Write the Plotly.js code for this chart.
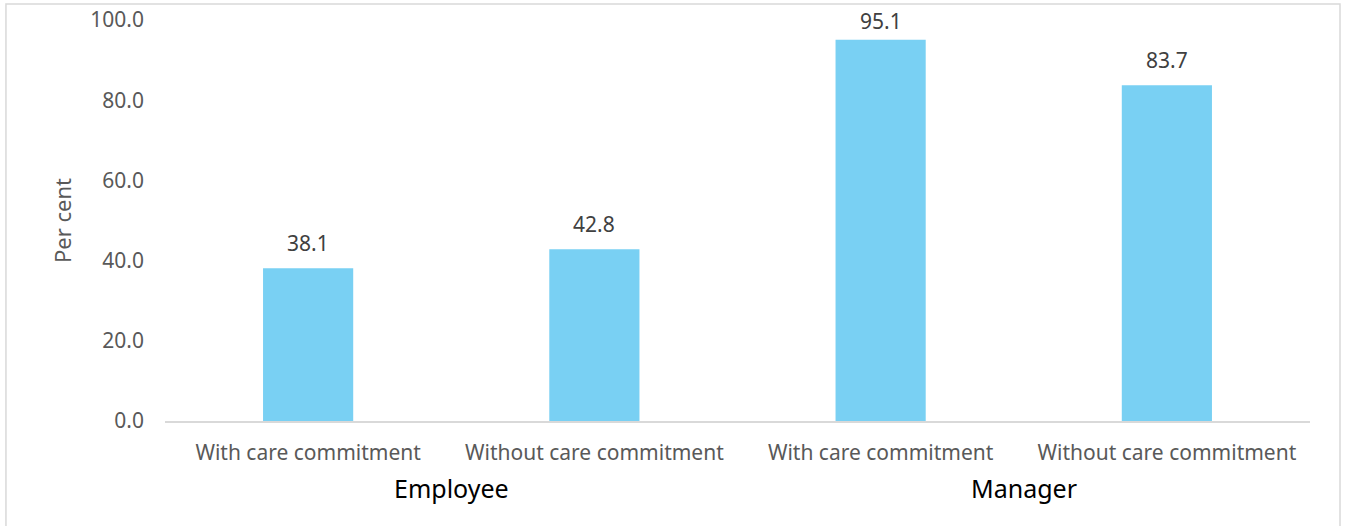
<!DOCTYPE html>
<html>
<head>
<meta charset="utf-8">
<script src="https://cdn.plot.ly/plotly-3.0.1.min.js"></script>
<style>
html,body{margin:0;padding:0;background:#fff;}
#chart{width:1346px;height:526px;}
</style>
</head>
<body>
<div id="chart"></div>
<script>
const groups = ["Employee", "Employee", "Manager", "Manager"];
const subcategories = ["With care commitment", "Without care commitment", "With care commitment", "Without care commitment"];
const values = [38.1, 42.8, 95.1, 83.7];
const groupNames = ["Employee", "Manager"];
const yTicks = [0, 20, 40, 60, 80, 100];

const xIdx = subcategories.map((_, i) => i);
const font = "'Noto Sans', 'Open Sans', sans-serif";

const groupAnnotations = groupNames.map(g => {
  const idx = xIdx.filter(i => groups[i] === g);
  const center = idx.reduce((a, b) => a + b, 0) / idx.length;
  return {
    x: center, xref: 'x', y: 0, yref: 'paper', yanchor: 'top',
    yshift: -48, text: g, showarrow: false,
    font: {family: font, size: 25, color: '#000000'}
  };
});

const valueAnnotations = xIdx.map(i => ({
  x: i, xref: 'x', y: values[i], yref: 'y', yanchor: 'bottom',
  yshift: values[i] > 90 ? 3 : 9, text: values[i].toFixed(1), showarrow: false,
  font: {family: font, size: 21, color: '#404040'}
}));

const trace = {
  type: 'bar',
  x: xIdx,
  y: values,
  marker: {color: '#79D0F3'},
  hoverinfo: 'skip'
};

const layout = {
  width: 1346, height: 526,
  margin: {l: 165, r: 36, t: 20, b: 105},
  paper_bgcolor: '#ffffff', plot_bgcolor: '#ffffff',
  bargap: 0.685,
  showlegend: false,
  font: {family: font, color: '#595959'},
  xaxis: {
    range: [-0.5, 3.5],
    tickvals: xIdx, ticktext: subcategories,
    showgrid: false, zeroline: false,
    showline: true, linecolor: '#d9d9d9', linewidth: 1.5,
    ticks: '', ticklabelstandoff: 12,
    tickfont: {family: font, size: 21, color: '#595959'}
  },
  yaxis: {
    range: [0, 100],
    tickvals: yTicks, tickformat: '.1f',
    showgrid: false, zeroline: false, showline: false,
    ticks: '', ticklabelstandoff: 20,
    tickfont: {family: font, size: 21, color: '#595959'},
    title: {text: 'Per cent', font: {family: font, size: 22, color: '#595959'}, standoff: 12}
  },
  annotations: groupAnnotations.concat(valueAnnotations),
  shapes: [{
    type: 'rect', xref: 'paper', yref: 'paper',
    x0: -0.1389, x1: 1.0262, y0: -0.30, y1: 1.0399,
    line: {color: '#d9d9d9', width: 1.5}, layer: 'below'
  }]
};

Plotly.newPlot('chart', [trace], layout, {displayModeBar: false, staticPlot: true});
</script>
</body>
</html>
